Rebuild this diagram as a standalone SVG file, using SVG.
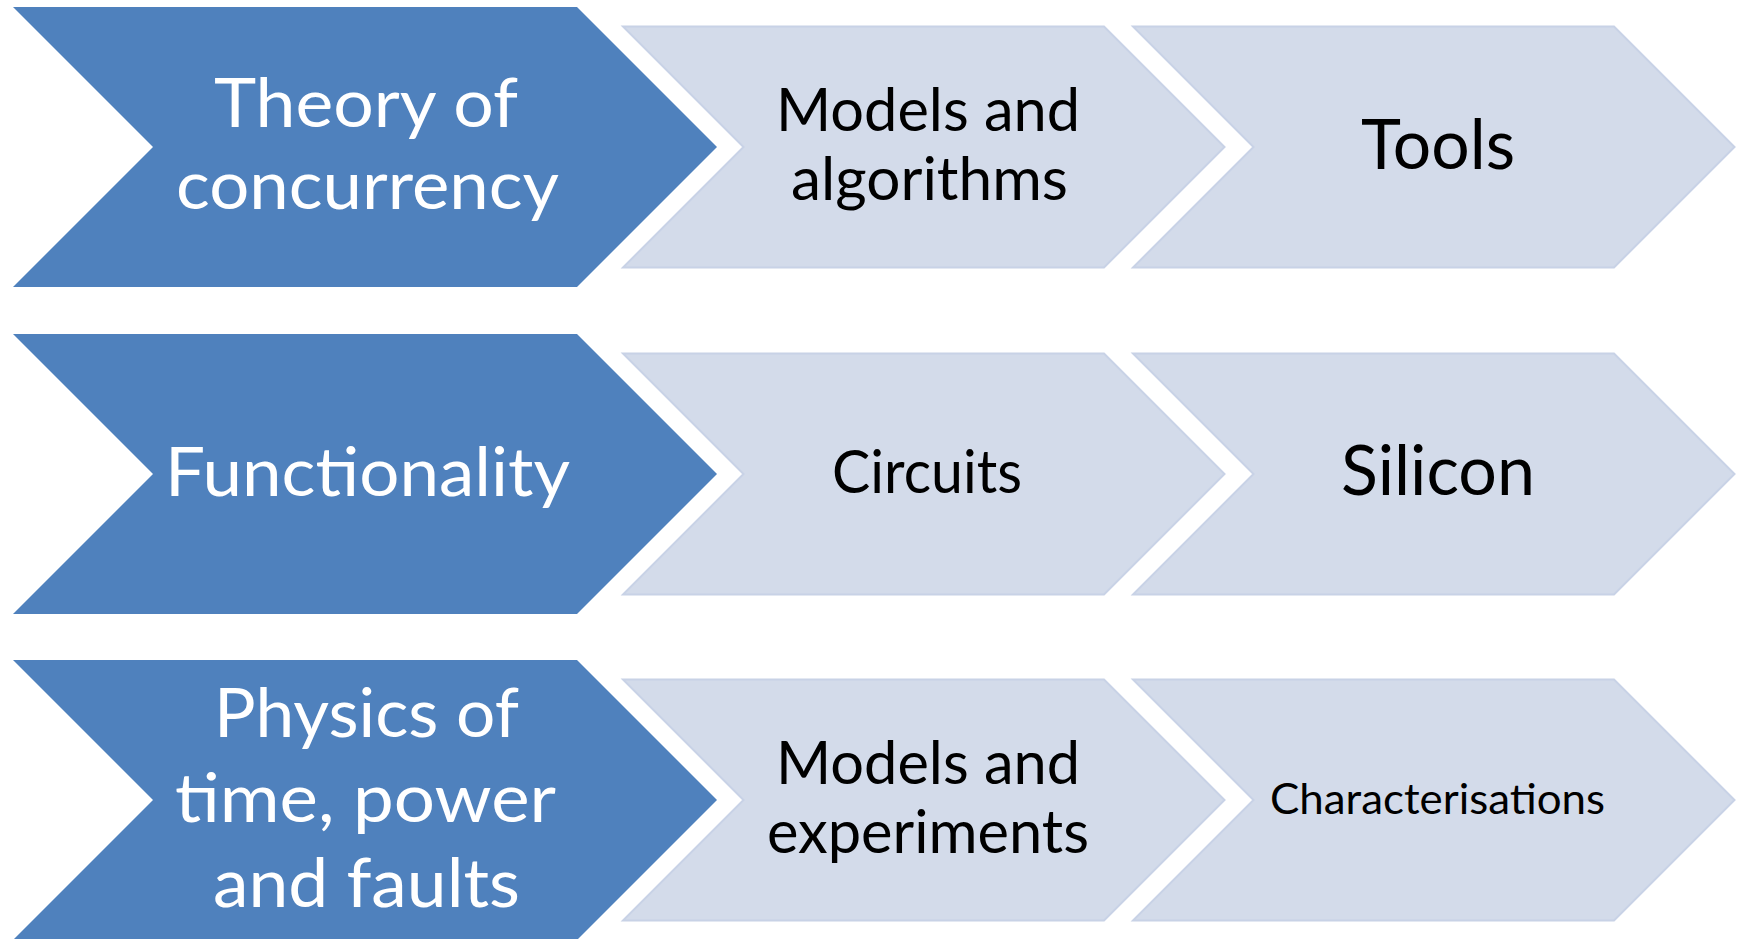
<svg xmlns="http://www.w3.org/2000/svg" width="1744" height="939" viewBox="0 0 1744 939">
  <style>
    .lead { fill: #4F81BD; }
    .step { fill: #D3DBEA; stroke: #C8D2E6; stroke-width: 2; stroke-linejoin: miter; }
    text { font-family: Lato, "Open Sans", "Liberation Sans", sans-serif; }
    .lead-label { fill: #FFFFFF; font-size: 68px; }
    .step-label { fill: #000000; font-size: 60px; }
    .big { font-size: 70px; }
    .small { font-size: 42px; }
  </style>
  <defs>
    <!-- chevron outlines centred on y=0 -->
    <polygon id="lead-shape" points="13,-140 577,-140 717,0 577,140 13,140 153,0"/>
    <polygon id="step-a" points="623,-120.5 1104,-120.5 1224.5,0 1104,120.5 623,120.5 743.5,0"/>
    <polygon id="step-b" points="1133,-120.5 1614,-120.5 1734.5,0 1614,120.5 1133,120.5 1253.5,0"/>
  </defs>

  <!-- row 1 -->
  <g id="theory" transform="translate(0,147)">
    <use href="#lead-shape" class="lead"/>
    <text class="lead-label" x="214" y="-20" textLength="304" lengthAdjust="spacingAndGlyphs">Theory of</text>
    <text class="lead-label" x="176" y="62" textLength="383" lengthAdjust="spacingAndGlyphs">concurrency</text>
  </g>
  <g id="models-algorithms" transform="translate(0,147)">
    <use href="#step-a" class="step"/>
    <text class="step-label" x="776" y="-16" textLength="304" lengthAdjust="spacingAndGlyphs">Models and</text>
    <text class="step-label" x="791" y="53" textLength="277" lengthAdjust="spacingAndGlyphs">algorithms</text>
  </g>
  <g id="tools" transform="translate(0,147)">
    <use href="#step-b" class="step"/>
    <text class="step-label big" x="1361" y="22" textLength="154" lengthAdjust="spacingAndGlyphs">Tools</text>
  </g>

  <!-- row 2 -->
  <g id="functionality" transform="translate(0,474)">
    <use href="#lead-shape" class="lead"/>
    <text class="lead-label" x="165" y="22" textLength="405" lengthAdjust="spacingAndGlyphs">Functionality</text>
  </g>
  <g id="circuits" transform="translate(0,474)">
    <use href="#step-a" class="step"/>
    <text class="step-label" x="832" y="19" textLength="190" lengthAdjust="spacingAndGlyphs">Circuits</text>
  </g>
  <g id="silicon" transform="translate(0,474)">
    <use href="#step-b" class="step"/>
    <text class="step-label big" x="1341" y="21" textLength="194" lengthAdjust="spacingAndGlyphs">Silicon</text>
  </g>

  <!-- row 3 -->
  <g id="physics" transform="translate(0,800)">
    <use href="#lead-shape" class="lead"/>
    <text class="lead-label" x="214" y="-63" textLength="305" lengthAdjust="spacingAndGlyphs">Physics of</text>
    <text class="lead-label" x="175" y="22" textLength="381" lengthAdjust="spacingAndGlyphs">time, power</text>
    <text class="lead-label" x="213" y="107" textLength="307" lengthAdjust="spacingAndGlyphs">and faults</text>
  </g>
  <g id="models-experiments" transform="translate(0,800)">
    <use href="#step-a" class="step"/>
    <text class="step-label" x="776" y="-16" textLength="304" lengthAdjust="spacingAndGlyphs">Models and</text>
    <text class="step-label" x="767" y="53" textLength="322" lengthAdjust="spacingAndGlyphs">experiments</text>
  </g>
  <g id="characterisations" transform="translate(0,800)">
    <use href="#step-b" class="step"/>
    <text class="step-label small" x="1270" y="14" textLength="335" lengthAdjust="spacingAndGlyphs">Characterisations</text>
  </g>

  <!-- the chevrons are laid out edge to edge; no separate connectors -->
  <g id="connectors"/>
</svg>
